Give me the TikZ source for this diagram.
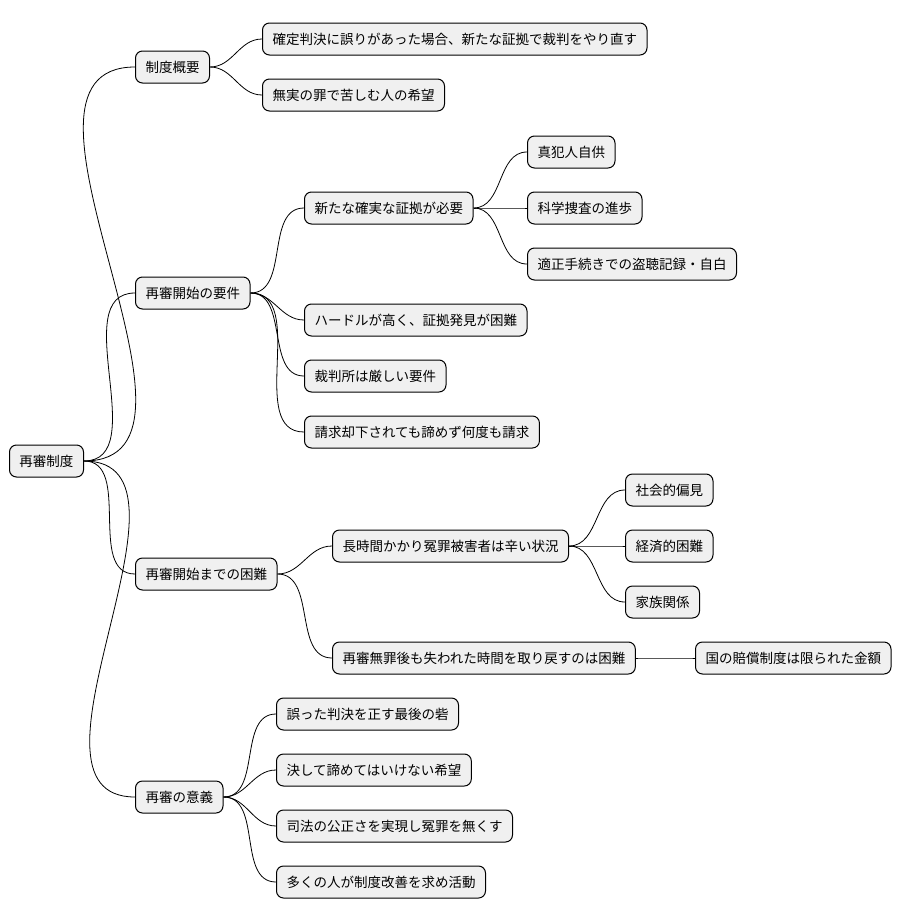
\documentclass[tikz,border=0pt]{standalone}
\usepackage{fontspec}
\setmainfont{Noto Sans CJK JP}
\begin{document}
\begin{tikzpicture}[x=1pt,y=-1pt,
  idea/.style={draw=black, line width=1pt, fill=black!6, rounded corners=7pt,
    minimum height=32pt, inner xsep=10pt, anchor=west, font=\fontsize{13.5pt}{15pt}\selectfont},
  link/.style={line width=0.8pt, out=0, in=180}]
\useasboundingbox (0,0) rectangle (908,921);
\node [idea] (root) at (9,461) {再審制度};
\node [idea] (gaiyo) at (135,67) {制度概要};
\node [idea] (yoken) at (135,293) {再審開始の要件};
\node [idea] (konnan) at (135,574) {再審開始までの困難};
\node [idea] (igi) at (135,797) {再審の意義};
% gaiyo
\node [idea] (g1) at (262,39) {確定判決に誤りがあった場合、新たな証拠で裁判をやり直す};
\node [idea] (g2) at (262,95) {無実の罪で苦しむ人の希望};
% yoken
\node [idea] (shoko) at (304,208) {新たな確実な証拠が必要};
\node [idea] (s1) at (527,152) {真犯人自供};
\node [idea] (s2) at (527,208) {科学捜査の進歩};
\node [idea] (s3) at (527,264) {適正手続きでの盗聴記録・自白};
\node [idea] (y2) at (304,320) {ハードルが高く、証拠発見が困難};
\node [idea] (y3) at (304,376) {裁判所は厳しい要件};
\node [idea] (y4) at (304,432) {請求却下されても諦めず何度も請求};
% konnan
\node [idea] (choji) at (332,546) {長時間かかり冤罪被害者は辛い状況};
\node [idea] (c1) at (625,490) {社会的偏見};
\node [idea] (c2) at (625,546) {経済的困難};
\node [idea] (c3) at (625,602) {家族関係};
\node [idea] (muzai) at (332,658) {再審無罪後も失われた時間を取り戻すのは困難};
\node [idea] (baisho) at (695,658) {国の賠償制度は限られた金額};
% igi
\node [idea] (i1) at (276,714) {誤った判決を正す最後の砦};
\node [idea] (i2) at (276,770) {決して諦めてはいけない希望};
\node [idea] (i3) at (276,826) {司法の公正さを実現し冤罪を無くす};
\node [idea] (i4) at (276,882) {多くの人が制度改善を求め活動};
\foreach \p/\c in {root/gaiyo, root/yoken, root/konnan, root/igi,
  gaiyo/g1, gaiyo/g2, yoken/shoko, yoken/y2, yoken/y3, yoken/y4,
  shoko/s1, shoko/s2, shoko/s3, konnan/choji, konnan/muzai,
  choji/c1, choji/c2, choji/c3, muzai/baisho,
  igi/i1, igi/i2, igi/i3, igi/i4}
  \draw [link] (\p.east) to (\c.west);
\end{tikzpicture}
\end{document}
